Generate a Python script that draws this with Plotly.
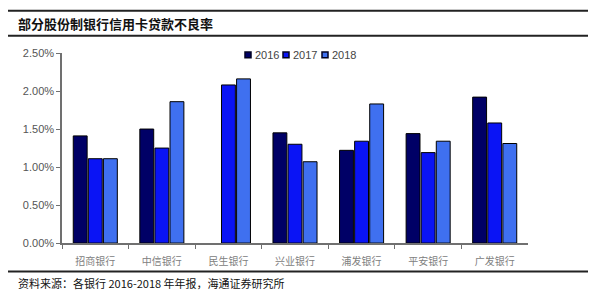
import plotly.graph_objects as go

banks = ["招商银行", "中信银行", "民生银行", "兴业银行", "浦发银行", "平安银行", "广发银行"]
years = ["2016", "2017", "2018"]
v2016 = [1.41, 1.50, None, 1.45, 1.22, 1.44, 1.92]
v2017 = [1.11, 1.25, 2.08, 1.30, 1.34, 1.19, 1.58]
v2018 = [1.11, 1.86, 2.16, 1.07, 1.83, 1.34, 1.31]
series = [v2016, v2017, v2018]
colors = ["#000066", "#0A14F5", "#3F70F0"]
yticks = [0, 0.5, 1.0, 1.5, 2.0, 2.5]
ytick_labels = ["0.00%", "0.50%", "1.00%", "1.50%", "2.00%", "2.50%"]

W, H = 600, 299
def px(x):
    return x / W
def py(y):
    return 1 - y / H

fig = go.Figure()
for yr, vals, col in zip(years, series, colors):
    fig.add_trace(go.Bar(
        x=banks, y=vals, name=yr,
        marker=dict(color=col, line=dict(color="#000000", width=1)),
    ))

fig.update_layout(
    width=W, height=H,
    margin=dict(l=0, r=0, t=0, b=0),
    paper_bgcolor="white", plot_bgcolor="white",
    barmode="group", bargap=0.32, bargroupgap=0.08,
    showlegend=False,
    xaxis=dict(domain=[px(62), px(528)], showgrid=False, showline=True,
               linecolor="#707070", linewidth=1.5, ticks="outside", tickcolor="#707070",
               ticklen=4, tickson="boundaries", ticklabelstandoff=8,
               tickfont=dict(family="Noto Sans CJK SC", size=10, color="#808080")),
    yaxis=dict(domain=[py(247), py(49)], range=[0, 2.5], showgrid=False, showline=True,
               linecolor="#707070", linewidth=1.5, ticks="outside", tickcolor="#707070",
               ticklen=4, tickvals=yticks, ticktext=ytick_labels, zeroline=False,
               tickfont=dict(family="Liberation Sans, Arial", size=11, color="#555555")),
    font=dict(family="Liberation Sans, Arial"),
)

# Custom compact legend (small squares + labels)
leg_x = [245, 283, 322]
leg_y = 51
for xs, yr, col in zip(leg_x, years, colors):
    fig.add_shape(type="rect", xref="paper", yref="paper",
                  x0=px(xs), x1=px(xs + 6), y0=py(leg_y + 3), y1=py(leg_y - 3),
                  fillcolor=col, line=dict(color="#000022", width=1.5))
    fig.add_annotation(text=yr, xref="paper", yref="paper", x=px(xs + 8), y=py(leg_y),
                       xanchor="left", yanchor="middle", showarrow=False,
                       font=dict(family="Liberation Sans, Arial", size=11, color="#444444"))

# Decorative lines
for yline, w in [(5, 2), (31, 2), (276.5, 2)]:
    fig.add_shape(type="line", xref="paper", yref="paper", x0=px(8), x1=px(588),
                  y0=py(yline), y1=py(yline), line=dict(color="#222222", width=w))

fig.add_annotation(text="<b>部分股份制银行信用卡贷款不良率</b>", xref="paper", yref="paper",
                   x=px(16), y=py(18), xanchor="left", yanchor="middle", showarrow=False,
                   font=dict(family="Noto Sans CJK SC", size=13, color="#111111"))
fig.add_annotation(text="资料来源：各银行 2016-2018 年年报，海通证券研究所", xref="paper", yref="paper",
                   x=px(16), y=py(289), xanchor="left", yanchor="middle", showarrow=False,
                   font=dict(family="Noto Sans CJK SC", size=11, color="#111111"))

fig.write_html("out.html")
